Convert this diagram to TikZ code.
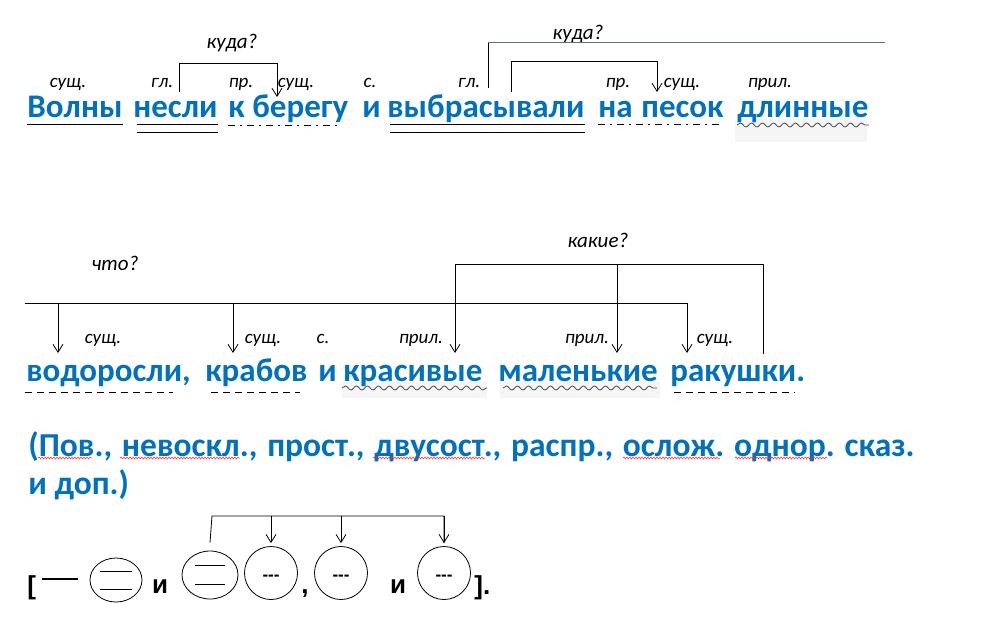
\documentclass[tikz,border=0pt]{standalone}
\usepackage{fontspec}
\setmainfont{Carlito}
\newfontfamily\schemefont{Liberation Sans}
\usetikzlibrary{positioning,arrows.meta,decorations.pathmorphing,shapes.geometric}
\definecolor{wordblue}{RGB}{0,112,192}
\definecolor{steelline}{RGB}{95,110,140}
\frenchspacing

\begin{document}
\begin{tikzpicture}[x=1pt,y=-1pt,line width=0.8pt,
  >={Straight Barb[length=8pt,width=10pt]},
  word/.style={font=\bfseries\fontsize{33}{38}\selectfont, text=wordblue, inner sep=0pt, anchor=base west},
  partlbl/.style={font=\itshape\fontsize{19}{21}\selectfont, inner sep=0pt, anchor=base},
  quest/.style={font=\itshape\fontsize{21}{23}\selectfont, inner sep=0pt, anchor=base},
  wavy/.style={black!70, decorate, decoration={snake, amplitude=2pt, segment length=11pt}},
  spell/.style={red!85, line width=0.5pt, decorate, decoration={snake, amplitude=1pt, segment length=3pt}},
  dashdot/.style={dash pattern=on 7pt off 5pt on 2pt off 5pt},
  dashline/.style={dash pattern=on 7pt off 5pt},
  hilite/.style={fill=black!4, draw=none},
  schsym/.style={font=\schemefont\bfseries\fontsize{26}{28}\selectfont, inner sep=0pt, anchor=base},
  blank/.style={circle, draw, minimum size=53pt, inner sep=0pt},
  dashes/.style={font=\schemefont\bfseries\fontsize{17}{18}\selectfont, inner sep=0pt, anchor=mid}]
  \useasboundingbox (0,0) rectangle (987,621);

  % grey marks behind the wavy lines
  \fill[hilite] (735,119) rectangle (867,142);
  \fill[hilite] (342,382) rectangle (487,398);
  \fill[hilite] (500,382) rectangle (660,398);

  % first line
  \node[word] (w1) at (27,117) {Волны};
  \node[word] (w2) at (133,117) {несли};
  \node[word] (w3) at (228,117) {к};
  \node[word] (w4) at (252,117) {берегу};
  \node[word] (w5) at (362,117) {и};
  \node[word] (w6) at (387,117) {выбрасывали};
  \node[word] (w7) at (598,117) {на};
  \node[word] (w8) at (641,117) {песок};
  \node[word] (w9) at (737,117) {длинные};

  \node[partlbl] (p1) at (68,87) {сущ.};
  \node[partlbl] (p2) at (162,87) {гл.};
  \node[partlbl] (p3) at (241,87) {пр.};
  \node[partlbl] (p4) at (296,87) {сущ.};
  \node[partlbl] (p5) at (370,87) {с.};
  \node[partlbl] (p6) at (469,87) {гл.};
  \node[partlbl] (p7) at (618,87) {пр.};
  \node[partlbl] (p8) at (682,87) {сущ.};
  \node[partlbl] (p9) at (770,87) {прил.};

  \node[quest] (q1) at (232,48) {куда?};
  \node[quest] (q2) at (578,39) {куда?};

  % members of the first line
  \draw ([yshift=-7pt]w1.base west) -- ([yshift=-7pt]w1.base east);
  \draw ([xshift=4pt,yshift=-7pt]w2.base west) -- ([yshift=-7pt]w2.base east);
  \draw ([xshift=4pt,yshift=-15pt]w2.base west) -- ([yshift=-15pt]w2.base east);
  \draw[dashdot] ([yshift=-8pt]w3.base west) -- ([xshift=-8pt,yshift=-8pt]w4.base east);
  \draw ([xshift=3pt,yshift=-7pt]w6.base west) -- ([yshift=-7pt]w6.base east);
  \draw ([xshift=3pt,yshift=-15pt]w6.base west) -- ([yshift=-15pt]w6.base east);
  \draw[dashdot] ([yshift=-7pt]w7.base west) -- ([xshift=-5pt,yshift=-7pt]w8.base east);
  \draw[wavy] ([yshift=-8pt]w9.base west) -- ([yshift=-8pt]w9.base east);

  \coordinate (k1from) at (179,92);
  \coordinate (k1to) at (277,97);
  \coordinate (k2from) at (511,92);
  \coordinate (k2to) at (657,92);
  \coordinate (k3from) at (488,88);
  \coordinate (k3end) at (885,42);
  \draw[->] (k1from) -- ++(0,-29) -| (k1to);
  \draw[->] (k2from) -- ++(0,-31) -| (k2to);
  \draw (k3from) |- (k3end -| k3from);
  \draw[steelline] (k3end -| k3from) -- (k3end);

  % second line
  \node[word] (v1) at (26,381) {водоросли,};
  \node[word] (v2) at (205,381) {крабов};
  \node[word] (v3) at (318,381) {и};
  \node[word] (v4) at (343,381) {красивые};
  \node[word] (v5) at (498,381) {маленькие};
  \node[word] (v6) at (670,381) {ракушки.};

  \node[partlbl] (r1) at (103,343) {сущ.};
  \node[partlbl] (r2) at (263,343) {сущ.};
  \node[partlbl] (r3) at (323,343) {с.};
  \node[partlbl] (r4) at (421,343) {прил.};
  \node[partlbl] (r5) at (587,343) {прил.};
  \node[partlbl] (r6) at (715,343) {сущ.};

  \node[quest] (q3) at (115,270) {что?};
  \node[quest] (q4) at (598,247) {какие?};

  \draw[dashline] (25,392) -- (173,392);
  \draw[dashline] (211,392) -- (300,392);
  \draw[wavy] (342,388) -- (487,388);
  \draw[wavy] (503,388) -- (657,388);
  \draw[dashline] (674,392) -- (795,392);

  \coordinate (m1) at (25,303);
  \coordinate (m2) at (687,353);
  \draw[->] (m1) -| (m2);
  \draw[->] (m1 -| 58,0) -- (58,353);
  \draw[->] (m1 -| 233,0) -- (233,353);

  \coordinate (n1) at (763,354);
  \coordinate (n2) at (455,353);
  \draw[->] (n1) -- ++(0,-90) -| (n2);
  \draw[->] (617,264) -- (617,353);

  % characteristic
  \node[word, font=\bfseries\fontsize{33.5}{38}\selectfont] (t1) at (28,456)
    {\makebox[886pt][s]{(Пов., невоскл., прост., двусост., распр., ослож. однор. сказ.}};
  \node[word, font=\bfseries\fontsize{33.5}{38}\selectfont] (t2) at (28,494) {и доп.)};
  \draw[spell] (38,458) -- (92,458);
  \draw[spell] (120,458) -- (240,458);
  \draw[spell] (373,458) -- (485,458);
  \draw[spell] (623,458) -- (720,458);
  \draw[spell] (735,458) -- (827,458);

  % scheme
  \node[schsym, anchor=base west] (b1) at (27,594) {[};
  \draw[line width=1.3pt] (42,579) -- (78,579);
  \node[ellipse, draw, minimum width=52pt, minimum height=44pt] (s1) at (116,580) {};
  \draw ([xshift=-16pt,yshift=9pt]s1.center) -- ([xshift=16pt,yshift=9pt]s1.center);
  \draw ([xshift=-16pt,yshift=-9pt]s1.center) -- ([xshift=16pt,yshift=-9pt]s1.center);
  \node[schsym] (i1) at (160,593) {и};
  \node[ellipse, draw, minimum width=56pt, minimum height=48pt] (s2) at (210,575) {};
  \draw ([xshift=-15pt,yshift=9.5pt]s2.center) -- ([xshift=15pt,yshift=9.5pt]s2.center);
  \draw ([xshift=-15pt,yshift=-9.5pt]s2.center) -- ([xshift=15pt,yshift=-9.5pt]s2.center);
  \node[blank] (c1) at (271,573) {};
  \node[schsym] (cm) at (305,593) {,};
  \node[blank] (c2) at (341,573) {};
  \node[schsym] (i2) at (398,593) {и};
  \node[blank] (c3) at (444,573) {};
  \node[schsym, anchor=base west] (b2) at (474,594) {].};
  \node[dashes] (d1) at ([yshift=-5pt]c1.center) {-{}-{}-};
  \node[dashes] (d2) at ([yshift=-5pt]c2.center) {-{}-{}-};
  \node[dashes] (d3) at ([yshift=-5pt]c3.center) {-{}-{}-};

  \coordinate (bar) at (212,516);
  \draw ([yshift=8pt]s2.north) -- (bar) -| ([yshift=3pt]c3.north);
  \draw[->] (bar -| c3.north) -- ([yshift=3pt]c3.north);
  \draw[->] (bar -| c1.north) -- ([yshift=3pt]c1.north);
  \draw[->] (bar -| c2.north) -- ([yshift=3pt]c2.north);
\end{tikzpicture}
\end{document}
